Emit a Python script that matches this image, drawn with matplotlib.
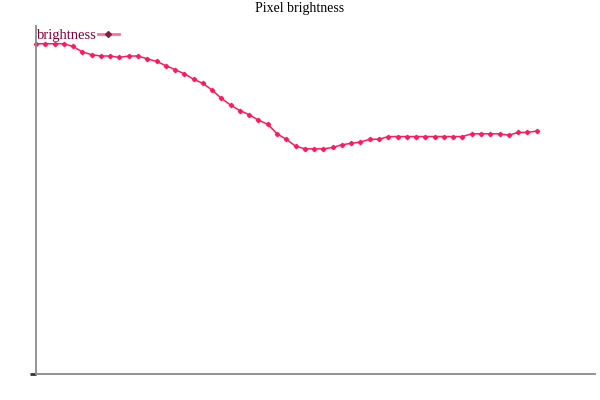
import matplotlib
matplotlib.use("Agg")
import matplotlib.pyplot as plt
from matplotlib.lines import Line2D

title = "Pixel brightness"
series_name = "brightness"
brightness = [242, 242, 242, 242, 240, 236, 234, 233, 233, 232,
              233, 233, 231, 229, 226, 223, 220, 216, 213, 208,
              202, 197, 193, 190, 186, 183, 176, 172, 167, 165,
              165, 165, 166, 168, 169, 170, 172, 172, 174, 174,
              174, 174, 174, 174, 174, 174, 174, 176, 176, 176,
              176, 175, 177, 177, 178]
frames = list(range(len(brightness)))

plt.rcParams['font.family'] = ['Liberation Serif', 'DejaVu Serif']

fig = plt.figure(figsize=(6, 4), dpi=100)
ax = fig.add_axes([36/600, 26/400, 559/600, 348/400])

line_color = '#ff1a5e'
ax.plot(frames, brightness, color=line_color, lw=1.1, marker='D',
        markersize=2.2, markerfacecolor=line_color, markeredgecolor=line_color,
        clip_on=False)

ax.set_xlim(0, 60.3)
ax.set_ylim(0, 255)
for s in ['top', 'right']:
    ax.spines[s].set_visible(False)
for s in ['left', 'bottom']:
    ax.spines[s].set_color('#8a8a8a')
    ax.spines[s].set_linewidth(1.3)
ax.set_xticks([])
ax.set_yticks([0])
ax.set_yticklabels([])
ax.tick_params(axis='y', length=4, width=2, color='#333333')

fig.text(0.5, 1 - 8.5/400, title, ha='center', va='center', fontsize=10,
         color='black')

handle = Line2D([], [], color='#ff6f9c', lw=2, marker='D', markersize=3,
                markerfacecolor='#8b1a3f', markeredgecolor='#8b1a3f')
leg = ax.legend([handle], [series_name], loc='upper left',
                bbox_to_anchor=(37/600, 1 - 29/400), bbox_transform=fig.transFigure,
                frameon=False, markerfirst=False, fontsize=10.5, handlelength=1.4,
                handletextpad=0.1, borderpad=0, borderaxespad=0)
for t in leg.get_texts():
    t.set_color('#800033')

fig.savefig('out.png', dpi=100)
